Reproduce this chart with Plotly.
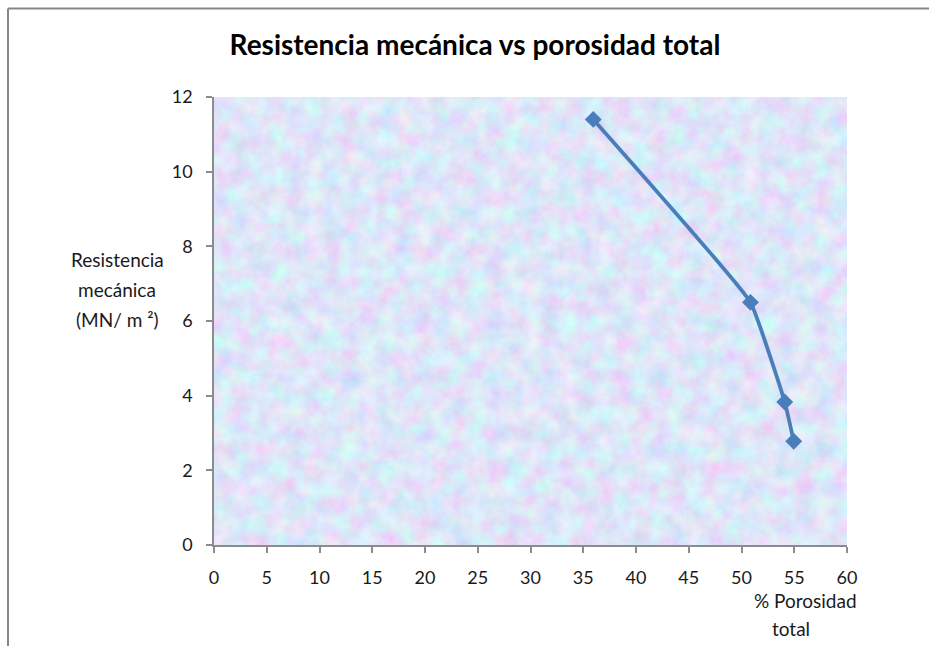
import base64
import plotly.graph_objects as go

# Porosity (%) vs mechanical strength (MN/m²)
porosidad = [35.95, 50.85, 54.1, 54.95]
resistencia = [11.4, 6.5, 3.83, 2.78]

x_ticks = [0, 5, 10, 15, 20, 25, 30, 35, 40, 45, 50, 55, 60]
y_ticks = [0, 2, 4, 6, 8, 10, 12]

W, H = 929, 646
ML, MR, MT, MB = 214, 82, 97, 101
PW, PH = W - ML - MR, H - MT - MB

FONT = "Lato, 'Open Sans', sans-serif"
BLUE = "#4a7ebb"
AXIS = "#8c8c8c"

# Pastel tissue-paper texture for the plot area, built from an SVG noise filter
texture_svg = f"""<svg xmlns='http://www.w3.org/2000/svg' width='{PW}' height='{PH}'>
<filter id='t' x='0' y='0' width='100%' height='100%'>
<feTurbulence type='fractalNoise' baseFrequency='0.055' numOctaves='5' seed='7' result='n'/>
<feColorMatrix in='n' type='matrix' values='
0.50 0 0 0 0.48
-0.22 0.44 0 0 0.68
0 0 0.18 0 0.85
0 0 0 0 1'/>
</filter>
<rect width='100%' height='100%' filter='url(#t)'/>
</svg>"""
texture_uri = "data:image/svg+xml;base64," + base64.b64encode(texture_svg.encode()).decode()

fig = go.Figure()
fig.add_trace(go.Scatter(
    x=porosidad, y=resistencia,
    mode="lines+markers",
    line=dict(color=BLUE, width=3.8, shape="spline", smoothing=0.3),
    marker=dict(symbol="diamond", size=13, color=BLUE),
    showlegend=False,
))

fig.update_layout(
    width=W, height=H,
    margin=dict(l=ML, r=MR, t=MT, b=MB),
    paper_bgcolor="white",
    plot_bgcolor="#c6d1f0",
    font=dict(family=FONT, color="#1a1a1a", size=18),
    title=dict(
        text="<b>Resistencia mecánica vs porosidad total</b>",
        x=475 / W, xanchor="center", y=1 - 45 / H, yanchor="middle",
        font=dict(family=FONT, size=28, color="#000000"),
    ),
    xaxis=dict(
        range=[0, 60], tickvals=x_ticks, ticktext=[str(v) for v in x_ticks],
        showgrid=False, zeroline=False,
        showline=True, linecolor=AXIS, linewidth=1.5,
        ticks="outside", ticklen=6, tickcolor=AXIS, tickwidth=1.5,
        ticklabelstandoff=10,
        tickfont=dict(size=18, color="#1a1a1a"),
    ),
    yaxis=dict(
        range=[0, 12], tickvals=y_ticks, ticktext=[str(v) for v in y_ticks],
        showgrid=False, zeroline=False,
        showline=True, linecolor=AXIS, linewidth=1.5,
        ticks="outside", ticklen=6, tickcolor=AXIS, tickwidth=1.5,
        ticklabelstandoff=10,
        tickfont=dict(size=18, color="#1a1a1a"),
    ),
    images=[dict(
        source=texture_uri, xref="paper", yref="paper",
        x=0, y=1, sizex=1, sizey=1, xanchor="left", yanchor="top",
        sizing="stretch", layer="below",
    )],
)

def px_x(px):
    return (px - ML) / PW

def px_y(py):
    return 1 - (py - MT) / PH

# Axis titles, one annotation per line to keep Excel-like spacing
for text, cx, cy in [("Resistencia", 117, 259), ("mecánica", 117, 289), ("(MN/ m ²)", 117, 319),
                     ("% Porosidad", 805, 600), ("total", 791, 628)]:
    fig.add_annotation(
        text=text, xref="paper", yref="paper", x=px_x(cx), y=px_y(cy),
        xanchor="center", yanchor="middle", showarrow=False,
        font=dict(family=FONT, size=19, color="#1a1a1a"),
    )

# Chart frame: top and left edges
fig.add_shape(type="line", xref="paper", yref="paper",
              x0=px_x(8), y0=px_y(8.5), x1=px_x(W + 5), y1=px_y(8.5),
              line=dict(color="#878787", width=2))
fig.add_shape(type="line", xref="paper", yref="paper",
              x0=px_x(8), y0=px_y(8.5), x1=px_x(8), y1=px_y(H + 5),
              line=dict(color="#878787", width=2))

fig.write_html("out.html")
